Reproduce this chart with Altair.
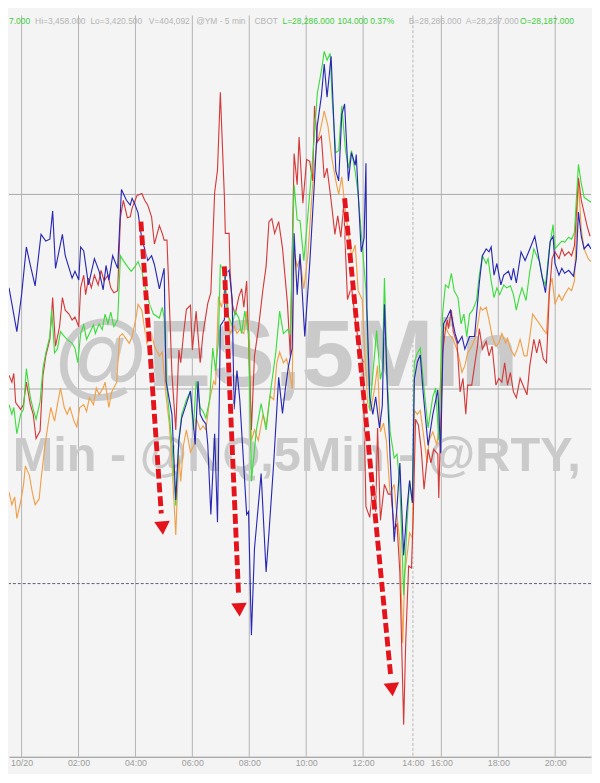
import altair as alt
import pandas as pd

# ---------------- data (x = 5-min bar index, y = change, chart units) ----------------
TICK_BARS = [0, 24, 48, 72, 96, 120, 144, 165, 177, 201, 225]
TICK_LABELS = ["10/20", "02:00", "04:00", "06:00", "08:00", "10:00", "12:00",
               "14:00", "16:00", "18:00", "20:00"]
SESSION_BREAK_BAR = 165
HGRID_VALUES = [200, 400]
ZERO_VALUE = [0]

BLUE = [(-5.3,304),(-2.0,259),(0.0,297),(2.0,346),(3.7,327),(5.7,306),(8.2,359),(10.2,352),
        (11.9,354),(13.1,383),(14.3,324),(17.2,359),(18.4,337),(21.3,314),(22.5,321),(24.1,312),
        (24.9,346),(26.2,342),(28.2,307),(30.7,334),(32.7,321),(34.4,302),(35.6,327),(36.8,312),
        (38.4,337),(40.5,324),(42.1,405),(44.2,394),(45.8,389),(46.6,396),(47.9,389),(49.1,381),
        (50.7,354),(51.9,344),(53.2,332),(54.8,337),(56.0,328),(58.1,303),(60.1,324),(60.9,208),
        (63.4,174),(65.0,86),(66.3,147),(67.5,170),(69.5,185),(71.2,198),(73.2,143),(74.4,208),
        (75.3,174),(76.5,168),(77.7,164),(78.5,143),(79.8,71),(81.4,154),(82.6,63),(83.8,265),
        (85.5,271),(85.9,318),(87.5,322),(88.8,292),(89.6,179),(90.8,219),(92.0,189),(94.9,71),
        (95.7,74),(96.9,-53),(98.2,36),(101.0,113),(103.1,12),(104.3,52),(106.3,124),(108.4,212),
        (110.0,175),(111.2,200),(112.5,223),(114.1,242),(114.9,360),(116.2,297),(117.4,339),
        (119.4,254),(121.5,329),(123.5,414),(124.7,471),(126.4,501),(127.6,534),(128.8,500),
        (130.5,542),(132.5,424),(133.7,414),(135.0,482),(136.2,493),(137.8,414),(139.1,443),
        (140.7,430),(141.1,441),(143.2,341),(144.4,355),(145.2,432),(145.6,283),(146.8,192),
        (148.1,174),(149.3,192),(150.9,160),(152.1,183),(153.0,287),(154.2,201),(155.4,129),
        (157.1,43),(158.3,79),(159.5,124),(161.1,29),(162.4,74),(163.6,106),(164.8,83),
        (165.6,210),(166.9,228),(168.1,235),(169.3,197),(171.4,142),(173.4,174),(175.5,199),
        (176.7,134),(177.9,267),(179.5,274),(180.8,281),(182.8,257),(184.0,247),(185.7,254),
        (186.9,241),(188.9,254),(191.0,254),(193.0,309),(194.3,337),(195.9,344),(197.1,341),
        (198.0,346),(199.2,317),(200.4,329),(202.1,307),(203.3,317),(205.3,321),(206.5,312),
        (207.4,324),(208.6,309),(210.6,341),(212.3,332),(214.3,344),(216.4,357),(217.6,341),
        (219.6,314),(220.9,299),(222.9,352),(224.1,357),(224.9,329),(226.6,317),(227.8,324),
        (229.0,319),(230.7,322),(232.7,316),(233.9,334),(234.8,382),(236.0,357),(237.2,344),
        (238.9,349),(240.1,344)]

RED = [(-5.3,214),(-4.1,207),(-3.3,216),(-2.5,186),(-0.4,179),(0.8,184),(2.0,207),(3.7,184),
       (4.9,174),(6.1,149),(7.8,157),(9.0,214),(10.2,234),(11.9,251),(13.1,294),(14.3,244),
       (16.0,264),(17.2,294),(18.4,281),(20.0,277),(21.3,271),(22.5,274),(24.1,264),(24.9,304),
       (26.2,317),(27.0,297),(28.2,314),(29.4,304),(30.7,317),(32.3,307),(33.5,322),(34.8,311),
       (36.4,317),(37.6,304),(38.9,299),(40.5,301),(41.7,377),(42.9,394),(44.6,376),(45.8,377),
       (46.6,386),(48.7,399),(50.7,401),(51.9,394),(53.2,389),(54.8,377),(56.0,349),(58.1,368),
       (59.3,360),(60.1,353),(61.3,353),(62.2,295),(63.4,215),(65.0,158),(66.3,240),(67.1,227),
       (68.3,257),(69.5,282),(71.2,286),(72.0,240),(73.6,280),(75.3,227),(76.5,257),(78.5,288),
       (79.8,299),(81.4,402),(82.6,425),(83.8,505),(85.5,398),(85.9,360),(87.5,360),(87.9,322),
       (88.8,288),(90.0,276),(91.6,295),(92.8,303),(93.7,284),(94.9,311),(96.9,158),(98.2,234),
       (99.8,261),(101.8,303),(103.1,326),(104.3,372),(105.5,375),(106.7,360),(108.4,372),
       (110.0,345),(112.1,288),(113.3,234),(114.9,442),(116.2,410),(117.0,459),(118.6,391),
       (120.2,436),(121.5,434),(122.7,414),(123.5,491),(124.7,454),(126.4,460),(127.6,417),
       (128.8,427),(130.5,394),(132.1,359),(133.3,378),(134.6,356),(135.8,389),(137.4,292),
       (139.1,305),(141.1,264),(142.7,237),(144.0,228),(145.2,79),(146.8,68),(148.1,102),
       (149.3,74),(150.1,160),(151.3,65),(153.0,102),(154.6,92),(155.8,92),(157.1,56),(158.3,61),
       (159.5,11),(161.1,-145),(162.0,-57),(163.2,18),(164.4,16),(165.2,74),(166.1,169),
       (167.3,163),(168.5,138),(169.7,97),(171.4,138),(172.6,124),(173.8,138),(175.5,133),
       (175.9,88),(177.5,237),(178.7,261),(179.5,271),(180.0,262),(181.2,281),(182.0,259),
       (183.6,247),(184.9,197),(186.1,211),(187.3,174),(188.1,204),(189.8,204),(191.0,224),
       (192.2,244),(193.0,262),(194.3,241),(195.9,249),(197.1,234),(198.4,244),(200.0,204),
       (201.2,211),(202.5,207),(203.7,227),(204.9,204),(206.1,217),(207.4,197),(208.6,191),
       (210.2,211),(211.9,201),(213.1,194),(214.3,224),(216.0,251),(217.2,237),(218.4,251),
       (220.0,231),(221.3,227),(222.5,297),(223.7,334),(224.9,341),(226.6,334),(227.8,344),
       (229.0,337),(230.7,341),(231.9,337),(233.1,347),(234.8,417),(236.0,394),(237.2,381),
       (238.5,367),(239.7,357)]

GREEN = [(-5.3,184),(-4.1,174),(-3.3,181),(-2.0,154),(-0.4,174),(0.8,179),(2.0,221),(3.7,191),
         (4.9,179),(6.1,169),(7.8,187),(9.0,221),(10.2,237),(11.9,254),(12.7,282),(13.9,237),
         (15.1,241),(16.4,259),(18.0,254),(19.2,251),(21.3,247),(22.5,242),(23.7,227),(24.9,257),
         (26.2,266),(27.4,251),(28.6,257),(30.3,266),(31.1,257),(32.7,267),(34.0,261),(35.2,277),
         (36.4,267),(37.6,279),(38.9,264),(40.5,271),(41.7,337),(42.9,332),(44.6,326),(46.2,321),
         (47.9,326),(49.1,331),(50.7,321),(51.9,307),(54.0,287),(55.6,277),(58.1,273),(59.3,284),
         (60.1,273),(61.3,200),(63.4,143),(65.0,80),(66.3,147),(67.5,174),(69.5,189),(71.2,198),
         (72.4,158),(73.6,208),(75.3,181),(76.5,177),(77.7,170),(79.3,189),(80.6,242),(81.8,219),
         (83.0,250),(83.8,328),(85.5,318),(86.7,280),(87.5,273),(88.8,265),(90.0,280),(91.6,273),
         (92.8,257),(94.1,280),(95.7,257),(96.9,105),(99.0,158),(101.0,185),(103.1,158),
         (105.1,200),(107.2,238),(108.8,280),(110.4,257),(112.1,261),(113.3,257),(114.9,410),
         (116.2,374),(117.4,373),(119.0,332),(120.7,378),(122.7,436),(124.7,504),(126.4,527),
         (127.6,547),(128.8,538),(130.1,545),(130.9,500),(132.5,443),(133.7,445),(135.0,491),
         (136.6,445),(137.8,427),(139.1,445),(140.7,423),(141.9,400),(144.0,337),(145.2,301),
         (146.8,178),(148.1,215),(149.7,260),(151.3,210),(152.1,219),(153.0,314),(154.2,210),
         (155.4,156),(157.1,129),(158.3,133),(159.5,102),(161.1,-12),(162.4,56),(163.6,106),
         (164.8,83),(165.6,228),(166.9,237),(168.1,242),(169.3,210),(171.4,160),(173.4,192),
         (174.6,201),(175.9,147),(177.5,277),(178.7,307),(180.0,304),(181.2,319),(182.4,301),
         (184.0,294),(185.3,267),(186.5,277),(187.7,254),(188.9,277),(190.2,281),(191.8,291),
         (193.0,317),(194.3,337),(195.9,329),(196.7,334),(198.0,311),(199.2,294),(200.4,304),
         (201.6,297),(203.3,307),(204.5,304),(206.1,306),(207.4,297),(208.6,281),(209.8,294),
         (211.0,304),(212.7,291),(214.3,321),(216.0,344),(217.2,337),(218.4,331),(219.6,314),
         (220.9,307),(222.5,344),(224.1,369),(224.9,344),(226.6,349),(227.8,352),(229.0,351),
         (230.7,356),(231.9,354),(233.1,361),(234.8,431),(236.0,411),(237.2,397),(238.9,394),
         (240.1,392)]

ORANGE = [(-5.3,94),(-4.1,81),(-2.9,89),(-2.0,67),(-0.4,84),(0.8,101),(1.6,121),(3.3,111),
          (4.5,94),(5.7,81),(7.4,87),(8.2,107),(9.8,141),(11.0,161),(12.3,181),(13.9,167),
          (15.1,184),(16.4,201),(18.0,181),(19.2,174),(20.4,181),(22.1,167),(23.3,161),(24.5,181),
          (26.2,184),(27.4,177),(28.6,191),(30.3,184),(31.5,201),(32.7,194),(34.4,201),(35.2,207),
          (36.8,181),(38.0,197),(38.9,201),(40.1,207),(41.3,254),(42.5,257),(44.2,251),(45.4,247),
          (46.6,254),(48.3,274),(49.1,287),(50.7,281),(52.8,247),(54.8,257),(56.0,244),(58.1,234),
          (59.3,238),(60.9,193),(62.2,166),(63.4,124),(65.0,50),(66.3,132),(67.1,105),(68.3,143),
          (69.5,158),(71.2,135),(72.8,143),(73.6,170),(75.3,158),(76.5,162),(77.7,158),(79.3,189),
          (81.0,208),(81.8,204),(83.0,295),(84.3,284),(85.9,307),(86.7,292),(87.9,257),(89.6,265),
          (90.8,257),(92.0,261),(93.7,257),(94.9,280),(96.1,250),(96.9,147),(98.2,158),(99.8,147),
          (101.8,174),(103.1,162),(104.7,193),(106.3,189),(107.6,227),(108.8,238),(110.4,227),
          (111.7,231),(112.9,219),(114.1,200),(114.9,341),(116.2,326),(117.4,334),(119.0,303),
          (120.7,337),(122.7,409),(124.3,450),(126.0,466),(127.6,486),(129.2,470),(130.9,436),
          (132.5,414),(133.7,400),(135.0,418),(136.6,382),(137.8,359),(139.1,337),(140.7,348),
          (141.9,301),(143.6,292),(144.8,233),(146.0,183),(147.2,178),(148.9,201),(150.1,224),
          (151.3,156),(152.6,165),(153.8,147),(155.4,92),(157.1,102),(157.9,79),(159.5,43),
          (160.7,-61),(161.6,11),(162.8,34),(163.6,52),(164.8,47),(165.6,178),(166.9,174),
          (168.1,178),(169.3,156),(171.0,124),(171.8,147),(173.4,156),(175.1,142),(175.9,160),
          (177.5,260),(178.7,264),(180.0,257),(182.0,251),(184.0,237),(185.7,217),(186.9,224),
          (188.1,237),(189.8,244),(191.0,251),(192.2,264),(193.5,284),(194.3,281),(195.9,284),
          (197.1,271),(198.4,254),(200.0,244),(201.2,247),(202.5,257),(204.1,247),(204.9,252),
          (206.1,241),(207.8,234),(209.0,241),(210.2,251),(211.9,234),(213.1,234),(214.3,254),
          (215.5,277),(217.2,271),(218.4,267),(220.0,261),(221.3,257),(222.5,304),(223.7,314),
          (224.9,287),(226.6,297),(227.8,291),(229.0,297),(230.7,304),(231.9,301),(233.1,311),
          (234.8,414),(236.0,364),(237.2,344),(238.9,334),(240.1,331)]

SERIES = [("@RTY", ORANGE, "#f0a048"), ("@YM", RED, "#d43a3a"),
          ("@ES", GREEN, "#3cdc3c"), ("@NQ", BLUE, "#2828b4")]

# red annotation arrows: start, end of shaft, head position, head rotation
ARROW_START = [(50.3, 372), (85.5, 326), (136.2, 396)]
ARROW_END = [(58.9, 72), (91.5, -12), (155.6, -94)]
ARROW_HEAD = [(59.4, 57), (91.8, -27), (156.2, -109)]
ARROW_ANGLE = [356, 357.4, 354.4]

WATERMARK = [("@ES,5Min", 111.7, 203, 97, "center"),
             ("Min - @NQ,5Min - @RTY,", -3.7, 116, 49.5, "left")]

HEADER_TEXT = ["7.000", "Hi=3,458.000", "Lo=3,420.500", "V=404,092", "@YM - 5 min", "CBOT",
               "L=28,286.000", "104.000", "0.37%", "B=28,286.000", "A=28,287.000", "O=28,187.000"]
HEADER_GREEN = [True, False, False, False, False, False, True, True, True, False, False, True]
HEADER_BAR = [-5.3, 5.7, 29.0, 53.6, 73.6, 98.2, 110.0, 133.2, 147.0, 163.2, 187.3, 210.2]
HEADER_CHG = 578

# ---------------- chart ----------------
W, H = 592, 754
xs = alt.Scale(domain=[-5.32, 240.1], nice=False, zero=False)
ys = alt.Scale(domain=[-178, 584], nice=False, zero=False)
FONT = "Liberation Sans"
BG = "#f4f4f4"

label_map = "{" + ",".join(f"'{b}':'{l}'" for b, l in zip(TICK_BARS, TICK_LABELS)) + "}"
x_axis = alt.Axis(values=TICK_BARS, labelExpr=f"{label_map}[''+datum.value]", grid=False,
                  ticks=False, domain=True, domainColor="#8c8c8c", labelColor="#9c9c9c",
                  labelFont=FONT, labelFontSize=9, labelPadding=2, title=None, labelAngle=0,
                  labelOverlap=False, labelFlush=False, labelBound=False)


def X(field="bar:Q"):
    return alt.X(field, scale=xs, axis=x_axis)


def Y(field="chg:Q"):
    return alt.Y(field, scale=ys, axis=None)


layers = []

vdf = pd.DataFrame({"bar": [b for b in TICK_BARS if b != SESSION_BREAK_BAR]})
layers.append(alt.Chart(vdf).mark_rule(color="#b2b2b2", strokeWidth=1).encode(x=X()))
layers.append(alt.Chart(pd.DataFrame({"bar": [SESSION_BREAK_BAR]})).mark_rule(
    color="#b8b8b8", strokeWidth=1, strokeDash=[3, 2]).encode(x=X()))
layers.append(alt.Chart(pd.DataFrame({"chg": HGRID_VALUES})).mark_rule(
    color="#a9a9a9", strokeWidth=1).encode(y=Y()))
layers.append(alt.Chart(pd.DataFrame({"chg": ZERO_VALUE})).mark_rule(
    color="#5c6070", strokeWidth=1, strokeDash=[3, 2]).encode(y=Y()))

for text, bx, cy, size, align in WATERMARK:
    layers.append(alt.Chart(pd.DataFrame({"bar": [bx], "chg": [cy], "t": [text]})).mark_text(
        font=FONT, fontWeight="bold", fontSize=size, color="#cacaca", align=align,
        baseline="alphabetic").encode(x=X(), y=Y(), text="t:N"))

hdf = pd.DataFrame({"bar": HEADER_BAR, "chg": [HEADER_CHG] * len(HEADER_BAR), "t": HEADER_TEXT,
                    "g": ["g" if g else "n" for g in HEADER_GREEN]})
layers.append(alt.Chart(hdf).mark_text(font=FONT, fontSize=8.6, align="left", baseline="middle").encode(
    x=X(), y=Y(), text="t:N",
    color=alt.Color("g:N", scale=alt.Scale(domain=["g", "n"], range=["#3bcf3b", "#b4b4b4"]),
                    legend=None)))

for name, pts, col in SERIES:
    df = pd.DataFrame(pts, columns=["bar", "chg"])
    layers.append(alt.Chart(df).mark_line(color=col, strokeWidth=1.15, clip=True).encode(
        x=X(), y=Y()))

rows = []
for i, (s, e) in enumerate(zip(ARROW_START, ARROW_END)):
    rows.append({"a": i, "p": 0, "bar": s[0], "chg": s[1]})
    rows.append({"a": i, "p": 1, "bar": e[0], "chg": e[1]})
adf = pd.DataFrame(rows)
layers.append(alt.Chart(adf).mark_line(color="#ffffff", strokeWidth=7.5, opacity=0.5,
                                       strokeDash=[10, 4], strokeCap="butt").encode(
    x=X(), y=Y(), detail="a:N", order="p:Q"))
layers.append(alt.Chart(adf).mark_line(color="#e3141c", strokeWidth=5, strokeDash=[10, 4],
                                       strokeCap="butt").encode(
    x=X(), y=Y(), detail="a:N", order="p:Q"))
hdf2 = pd.DataFrame({"bar": [h[0] for h in ARROW_HEAD], "chg": [h[1] for h in ARROW_HEAD],
                     "ang": ARROW_ANGLE})
layers.append(alt.Chart(hdf2).mark_point(shape="triangle-down", filled=True, size=250,
                                         color="#e3141c", opacity=1).encode(
    x=X(), y=Y(), angle=alt.Angle("ang:Q", scale=None)))

chart = alt.layer(*layers).properties(width=W, height=H, padding=0, background=BG).configure_view(
    stroke=None, fill=BG)

chart.save("out.html", embed_options={"renderer": "svg", "actions": False})
